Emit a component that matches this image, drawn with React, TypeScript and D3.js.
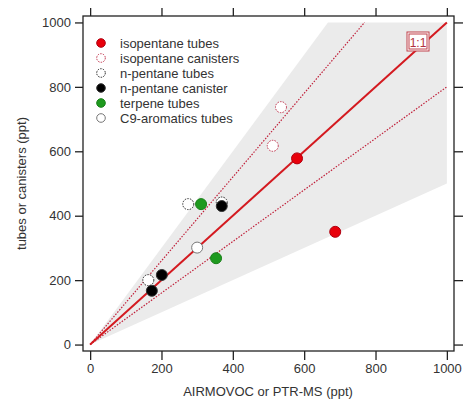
import React, { useEffect, useRef } from 'react';
import * as d3 from 'd3';

const isoTubes = [[580, 578], [687, 350]];
const isoCanisters = [[535, 737], [512, 617]];
const nPentTubes = [[275, 436], [369, 441], [163, 200]];
const nPentCanister = [[369, 430], [201, 216], [173, 167]];
const terpeneTubes = [[311, 436], [353, 268]];
const c9Tubes = [[300, 301]];

const ticks = [0, 200, 400, 600, 800, 1000];
const legendNames = [
  'isopentane tubes',
  'isopentane canisters',
  'n-pentane tubes',
  'n-pentane canister',
  'terpene tubes',
  'C9-aromatics tubes',
];
const wedgeSlopes = [0.5, 1.5];
const dottedSlopes = [0.8, 1.3];

const styles = [
  { fill: '#e8000b', stroke: '#b00010', dash: null },
  { fill: '#ffffff', stroke: '#c0304a', dash: '1.5,1.2' },
  { fill: '#ffffff', stroke: '#222', dash: '1.5,1.2' },
  { fill: '#000000', stroke: '#333', dash: null },
  { fill: '#1e9a1e', stroke: '#188018', dash: null },
  { fill: '#ffffff', stroke: '#777', dash: null },
];
const series = [isoTubes, isoCanisters, nPentTubes, nPentCanister, terpeneTubes, c9Tubes];

const App = () => {
  const ref = useRef<SVGSVGElement>(null);

  useEffect(() => {
    const svg = d3.select(ref.current);
    svg.selectAll('*').remove();
    const font = '"Liberation Sans", Arial, sans-serif';

    const left = 83, right = 454, top = 16, bottom = 351;
    const x = d3.scaleLinear().domain([-20, 1020]).range([left, right]);
    const y = d3.scaleLinear().domain([-20, 1020]).range([bottom, top]);

    // gray wedge between slopes 0.5 and 1.5
    const wedge = [[0, 0], [1000, 1000 * wedgeSlopes[0]], [1000, 1000], [1000 / wedgeSlopes[1], 1000]];
    svg.append('path')
      .attr('d', d3.line()(wedge.map(d => [x(d[0]), y(d[1])]) as any) + 'Z')
      .attr('fill', '#ebebeb');

    // dotted lines
    dottedSlopes.forEach(s => {
      const xe = Math.min(1000, 1000 / s);
      svg.append('line')
        .attr('x1', x(0)).attr('y1', y(0))
        .attr('x2', x(xe)).attr('y2', y(xe * s))
        .attr('stroke', '#c0203a').attr('stroke-width', 1.2)
        .attr('stroke-dasharray', '1.5,1.5');
    });

    // 1:1 line
    svg.append('line')
      .attr('x1', x(0)).attr('y1', y(0))
      .attr('x2', x(1000)).attr('y2', y(1000))
      .attr('stroke', '#d41a20').attr('stroke-width', 2);

    // 1:1 box
    const bx = 407, by = 32;
    svg.append('rect').attr('x', bx).attr('y', by).attr('width', 22).attr('height', 19)
      .attr('fill', '#fff').attr('stroke', '#c0404a').attr('stroke-width', 1);
    svg.append('rect').attr('x', bx + 2).attr('y', by + 2).attr('width', 18).attr('height', 15)
      .attr('fill', 'none').attr('stroke', '#c0404a').attr('stroke-width', 1);
    svg.append('text').attr('x', bx + 11).attr('y', by + 14.5)
      .attr('text-anchor', 'middle').attr('font-family', font).attr('font-size', 12)
      .attr('fill', '#b03040').text('1:1');

    // frame
    svg.append('rect').attr('x', left).attr('y', top)
      .attr('width', right - left).attr('height', bottom - top)
      .attr('fill', 'none').attr('stroke', '#222').attr('stroke-width', 1.3);

    // axes
    const axL = svg.append('g').attr('transform', `translate(${left},0)`)
      .call(d3.axisLeft(y).tickValues(ticks).tickSize(8).tickPadding(4).tickFormat(d3.format('d')));
    const axB = svg.append('g').attr('transform', `translate(0,${bottom})`)
      .call(d3.axisBottom(x).tickValues(ticks).tickSize(9).tickPadding(4).tickFormat(d3.format('d')));
    const axR = svg.append('g').attr('transform', `translate(${right},0)`)
      .call(d3.axisRight(y).tickValues(ticks).tickSize(9).tickFormat(() => ''));
    const axT = svg.append('g').attr('transform', `translate(0,${top})`)
      .call(d3.axisTop(x).tickValues(ticks).tickSize(8).tickFormat(() => ''));
    [axL, axB, axR, axT].forEach(g => {
      g.select('.domain').remove();
      g.selectAll('line').attr('stroke', '#222').attr('stroke-width', 1.3);
      g.selectAll('text').attr('font-family', font).attr('font-size', 13).attr('fill', '#333');
    });

    svg.append('text').attr('x', 268).attr('y', 396).attr('text-anchor', 'middle')
      .attr('font-family', font).attr('font-size', 13).attr('fill', '#333')
      .text('AIRMOVOC or PTR-MS (ppt)');
    svg.append('text').attr('transform', `translate(26,${(top + bottom) / 2}) rotate(-90)`)
      .attr('text-anchor', 'middle')
      .attr('font-family', font).attr('font-size', 13).attr('fill', '#333')
      .text('tubes or canisters (ppt)');

    // points
    series.forEach((pts, i) => {
      const st = styles[i];
      svg.append('g').selectAll('circle').data(pts).enter().append('circle')
        .attr('cx', d => x(d[0])).attr('cy', d => y(d[1])).attr('r', 5.5)
        .attr('fill', st.fill).attr('stroke', st.stroke).attr('stroke-width', 1)
        .attr('stroke-dasharray', st.dash);
    });

    // legend
    const lg = svg.append('g');
    legendNames.forEach((name, i) => {
      const st = styles[i];
      const ly = 43 + i * 15;
      lg.append('circle').attr('cx', 101).attr('cy', ly).attr('r', 4.3)
        .attr('fill', st.fill).attr('stroke', st.stroke).attr('stroke-width', 1)
        .attr('stroke-dasharray', st.dash);
      lg.append('text').attr('x', 120).attr('y', ly + 4.5)
        .attr('font-family', font).attr('font-size', 13).attr('fill', '#333')
        .text(name);
    });
  }, []);

  return (
    <svg ref={ref} width={466} height={402}
      style={{ position: 'absolute', left: 0, top: 0, background: '#fff' }} />
  );
};

export default App;
